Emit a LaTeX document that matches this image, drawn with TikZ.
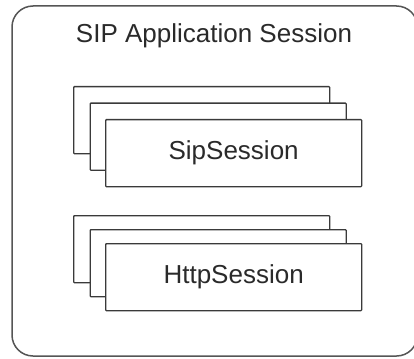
\documentclass[tikz,border=0pt]{standalone}
\usepackage{fontspec}
\setmainfont{Liberation Sans}
\begin{document}
\begin{tikzpicture}[x=1pt,y=-1pt,
  session/.style={draw=boxline, line width=1.3pt, fill=white, rounded corners=0.8pt,
    anchor=north west, minimum width=256pt, minimum height=67pt, inner sep=0pt,
    text=labeltext, font=\fontsize{26}{30}\selectfont},
  container/.style={draw=frameline, line width=1.5pt, rounded corners=21pt}]
\definecolor{boxline}{HTML}{3A3A3A}
\definecolor{frameline}{HTML}{555555}
\definecolor{labeltext}{HTML}{2A2A2A}
\useasboundingbox (0,0) rectangle (414,358);

% application session frame (right side runs past the page edge)
\draw[container] (12,6) rectangle (417.5,356);
\node[anchor=base, text=labeltext, font=\fontsize{26}{30}\selectfont] (title) at (214,42.7) {SIP Application Session};

% stacked SIP sessions
\node[session] (sip3) at (73,86) {};
\node[session] (sip2) at (89.5,102.5) {};
\node[session] (sip1) at (105,119) {SipSession};

% stacked HTTP sessions
\node[session] (http3) at (73,215) {};
\node[session] (http2) at (89.5,229) {};
\node[session] (http1) at (105,243) {HttpSession};
\end{tikzpicture}
\end{document}
